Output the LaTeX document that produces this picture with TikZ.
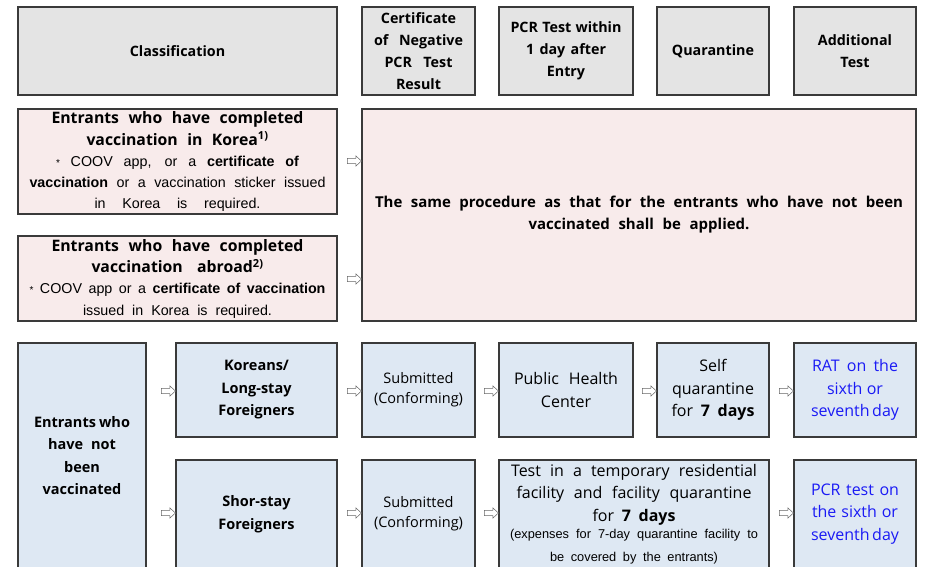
\documentclass[tikz,border=0pt]{standalone}
\usepackage{fontspec}
\setmainfont{Open Sans}
\newfontfamily\gul{Liberation Sans}
\definecolor{hdr}{HTML}{E4E4E4}
\definecolor{pnk}{HTML}{F8EBEB}
\definecolor{blu}{HTML}{DEE8F3}
\definecolor{edgec}{HTML}{3A3A3A}
\definecolor{bluetxt}{HTML}{1A1AF5}
\tikzset{
  box/.style={draw=edgec, line width=1.1pt, align=center, inner sep=1pt, text=black},
  hbox/.style={box, fill=hdr, font=\fontsize{14.3}{22}\selectfont\bfseries},
  pbox/.style={box, fill=pnk, font=\fontsize{15.8}{21.5}\selectfont},
  bbox/.style={box, fill=blu, font=\fontsize{16}{22.5}\selectfont},
  bbold/.style={bbox, font=\fontsize{14.5}{22.5}\selectfont\bfseries},
  barr/.pic={\draw[draw=black!60, fill=white, line width=0.5pt, line join=miter]
     (0,0) -- (-5.5,-5) -- (-5.5,-2.6) -- (-14,-2.6) -- (-14,2.6) -- (-5.5,2.6) -- (-5.5,5) -- cycle;}
}
\newcommand\jl[2]{\leavevmode\hbox to #1pt{\spaceskip=1.5pt plus 1fil\xspaceskip=1.5pt plus 1fil\relax #2}}
\newcommand\smstar{{\fontsize{10}{10}\selectfont *}}
\begin{document}
\begin{tikzpicture}[x=1pt,y=-1pt]
\clip (0,0) rectangle (925,566);
\fill[white] (0,0) rectangle (925,566);
% header row
\node[hbox, minimum width=319pt, minimum height=88pt, text width=305pt] (cls) at (177.5,51) {Classification};
\node[hbox, minimum width=113pt, minimum height=88pt, text width=111pt] (cert) at (418.5,51)
 {Certificate\\\jl{89}{of Negative}\\\jl{68}{PCR Test}\\Result};
\node[hbox, minimum width=134pt, minimum height=88pt, text width=130pt] (pcr) at (566,51)
 {\jl{111}{PCR Test within}\\\jl{80}{1 day after}\\Entry};
\node[hbox, minimum width=112pt, minimum height=88pt, text width=108pt] (quar) at (713,51) {Quarantine};
\node[hbox, minimum width=122pt, minimum height=88pt, text width=118pt] (add) at (855,51) {Additional\\Test};
% vaccinated rows
\node[pbox, minimum width=319pt, minimum height=105pt, text width=315pt] (kor) at (177.5,161.5)
 {\bfseries\jl{252}{Entrants who have completed}\\\jl{182}{vaccination in Korea\textsuperscript{1)}}\\
  \mdseries\gul\fontsize{14.3}{21}\selectfont
  \jl{243}{\smstar{} COOV app, or a \textbf{certificate of}}\\
  \jl{296}{\textbf{vaccination} or a vaccination sticker issued}\\
  \jl{166}{in Korea is required.}};
\node[pbox, minimum width=319pt, minimum height=85pt, text width=315pt] (abr) at (177.5,278.5)
 {\bfseries\jl{252}{Entrants who have completed}\\\jl{172}{vaccination abroad\textsuperscript{2)}}\\
  \mdseries\gul\fontsize{14.3}{21}\selectfont
  \jl{296}{\smstar{} COOV app or a \textbf{certificate of vaccination}}\\
  \jl{189}{issued in Korea is required.}};
\node[pbox, minimum width=554pt, minimum height=212pt, text width=545pt, font=\fontsize{15}{22}\selectfont] (same) at (639,215)
 {\bfseries\jl{528}{The same procedure as that for the entrants who have not been}\\
  \jl{221}{vaccinated shall be applied.}};
\pic at (same.west |- 0,161) {barr};
\pic at (same.west |- 0,279) {barr};
% not vaccinated
\node[bbold, minimum width=128pt, minimum height=225pt, text width=124pt] (nv) at (82,455.5)
 {\jl{96}{Entrants who}\\\jl{68}{have not}\\been\\vaccinated};
\node[bbold, minimum width=161pt, minimum height=94pt, text width=155pt] (klf) at (256.5,390)
 {Koreans/\\Long-stay\\Foreigners};
\node[bbold, minimum width=161pt, minimum height=108pt, text width=155pt] (ssf) at (256.5,514)
 {Shor-stay\\Foreigners};
\node[bbox, minimum width=113pt, minimum height=94pt, text width=111pt, font=\fontsize{14.5}{20}\selectfont] (sub1) at (418.5,390)
 {Submitted\\(Conforming)};
\node[bbox, minimum width=113pt, minimum height=108pt, text width=111pt, font=\fontsize{14.5}{20}\selectfont] (sub2) at (418.5,514)
 {Submitted\\(Conforming)};
\node[bbox, minimum width=134pt, minimum height=94pt, text width=130pt] (phc) at (566,390)
 {\jl{104}{Public Health}\\Center};
\node[bbox, minimum width=112pt, minimum height=94pt, text width=108pt] (selfq) at (713,390)
 {Self\\quarantine\\\jl{83}{for \textbf{7 days}}};
\node[bbox, minimum width=122pt, minimum height=94pt, text width=118pt, text=bluetxt] (rat) at (855,390)
 {\jl{86}{RAT on the}\\\jl{56}{sixth or}\\\jl{88}{seventh day}};
\node[bbox, minimum width=270pt, minimum height=108pt, text width=266pt] (facq) at (634,514)
 {\jl{246}{Test in a temporary residential}\\\jl{235}{facility and facility quarantine}\\\jl{83}{for \textbf{7 days}}\\[-2pt]
  \gul\fontsize{12.8}{19.5}\selectfont \jl{248}{(expenses for 7-day quarantine facility to}\\\jl{168}{be covered by the entrants)}};
\node[bbox, minimum width=122pt, minimum height=108pt, text width=118pt, text=bluetxt] (pcrt) at (855,514)
 {\jl{88}{PCR test on}\\\jl{86}{the sixth or}\\\jl{88}{seventh day}};
% arrows
\pic at (klf.west |- 0,391) {barr};
\pic at (ssf.west |- 0,513) {barr};
\pic at (sub1.west |- 0,391) {barr};
\pic at (sub2.west |- 0,513) {barr};
\pic at (phc.west |- 0,391) {barr};
\pic at (facq.west |- 0,513) {barr};
\pic at (selfq.west |- 0,391) {barr};
\pic at (rat.west |- 0,391) {barr};
\pic at (pcrt.west |- 0,513) {barr};
\end{tikzpicture}
\end{document}
